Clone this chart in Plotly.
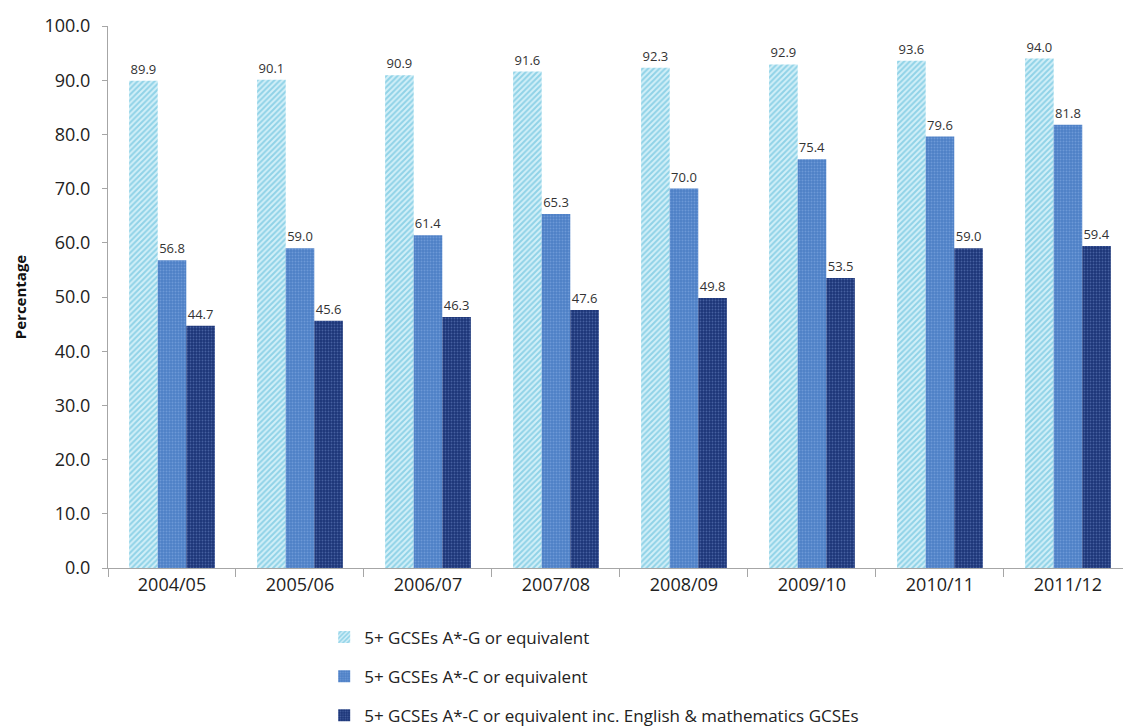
import plotly.graph_objects as go

years = ["2004/05", "2005/06", "2006/07", "2007/08", "2008/09", "2009/10", "2010/11", "2011/12"]
a_to_g = [89.9, 90.1, 90.9, 91.6, 92.3, 92.9, 93.6, 94.0]
a_to_c = [56.8, 59.0, 61.4, 65.3, 70.0, 75.4, 79.6, 81.8]
a_to_c_em = [44.7, 45.6, 46.3, 47.6, 49.8, 53.5, 59.0, 59.4]

series = [
    ("5+ GCSEs A*-G or equivalent", a_to_g,
     dict(shape="/", fgcolor="#4db6d6", bgcolor="#d2eff8", size=4, solidity=0.5)),
    ("5+ GCSEs A*-C or equivalent", a_to_c,
     dict(shape=".", fgcolor="#8db3e6", bgcolor="#4d7fc6", size=3, solidity=0.35)),
    ("5+ GCSEs A*-C or equivalent inc. English & mathematics GCSEs", a_to_c_em,
     dict(shape=".", fgcolor="#6f8cc8", bgcolor="#1c3578", size=3, solidity=0.3)),
]

fig = go.Figure()
for i, (name, vals, pat) in enumerate(series):
    fig.add_trace(go.Bar(
        x=years, y=vals, name=name, legendgroup=f"g{i}",
        marker=dict(color=pat["bgcolor"], pattern=pat, line=dict(width=0)),
        texttemplate="%{y:.1f}", textposition="outside",
        textfont=dict(size=13, color="#333333", family="Open Sans"),
        cliponaxis=False,
    ))

axis_col = "#a6a6a6"
fig.update_layout(
    width=1123, height=727,
    margin=dict(l=108, r=0, t=26, b=159, autoexpand=False),
    paper_bgcolor="white", plot_bgcolor="white",
    barmode="group", bargap=0.33, bargroupgap=0,
    uniformtext=dict(minsize=13, mode="show"),
    font=dict(family="Open Sans", color="#222222"),
    xaxis=dict(
        range=[-0.5, 7.43], showline=True, linecolor=axis_col, linewidth=1,
        ticks="outside", tickson="boundaries", ticklen=8, tickcolor=axis_col,
        tickfont=dict(size=18, color="#222222"), showgrid=False, tickangle=0,
    ),
    yaxis=dict(
        range=[0, 100], dtick=10, tickformat=".1f", showgrid=False,
        showline=True, linecolor=axis_col, linewidth=1,
        ticks="outside", ticklen=5, tickcolor=axis_col, ticklabelstandoff=8,
        tickfont=dict(size=18, color="#222222"),
        title=dict(text="<b>Percentage</b>", font=dict(size=15, color="#111111"), standoff=14),
        zeroline=False,
    ),
    legend=dict(
        x=0.213, y=-0.095, xanchor="left", yanchor="top", orientation="v",
        font=dict(size=17, color="#222222"), tracegroupgap=14,
        itemwidth=30,
    ),
    showlegend=True,
)

fig.write_html("out.html")
